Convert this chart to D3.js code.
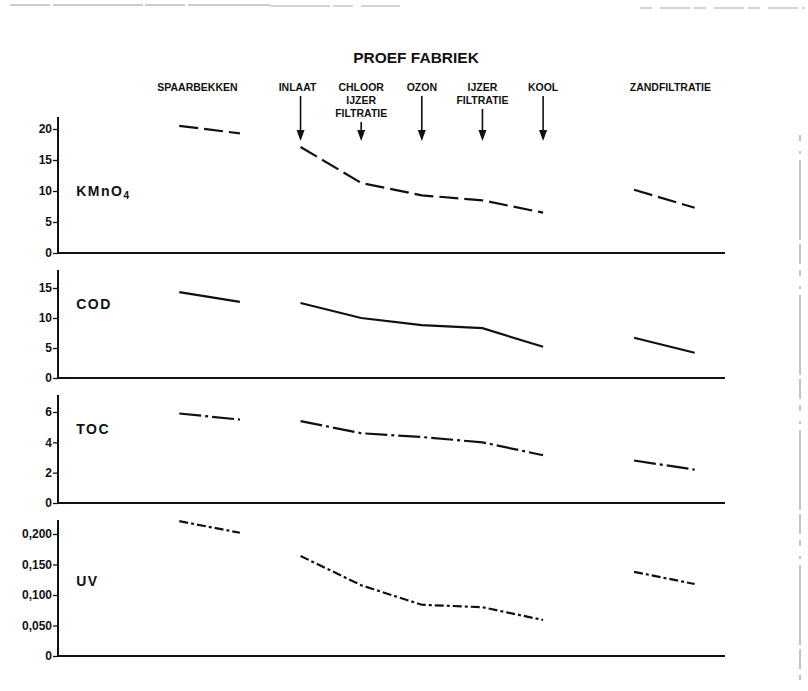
<!DOCTYPE html>
<html>
<head>
<meta charset="utf-8">
<script src="https://cdn.jsdelivr.net/npm/d3@7"></script>
<style>
  html, body { margin: 0; padding: 0; background: #fff; }
  svg { display: block; }
  text { font-family: "Liberation Sans", Arial, Helvetica, sans-serif; fill: #111; }
</style>
</head>
<body>
<svg id="chart" width="808" height="691"></svg>
<script>
// ---------- data ----------
const title = "PROEF FABRIEK";
// process positions (step index along the treatment train)
const positions = [2, 3, 4, 5, 6, 7, 8, 9.5, 10.5];
// segments: indices into positions
const segments = [[0, 1], [2, 3, 4, 5, 6], [7, 8]];

const kmno4 = [20.5, 19.3, 17.1, 11.3, 9.3, 8.5, 6.5, 10.2, 7.3];
const cod   = [14.3, 12.7, 12.5, 10.0, 8.8, 8.3, 5.2, 6.7, 4.2];
const toc   = [5.9, 5.5, 5.4, 4.6, 4.35, 4.0, 3.15, 2.8, 2.2];
const uv    = [0.221, 0.202, 0.164, 0.116, 0.084, 0.080, 0.059, 0.138, 0.118];

const kmno4Ticks = [0, 5, 10, 15, 20];
const codTicks   = [0, 5, 10, 15];
const tocTicks   = [0, 2, 4, 6];
const uvTicks    = [0, 0.05, 0.10, 0.15, 0.20];

// station labels: [position, lines]
const stationLabels = [
  [2.3, ["SPAARBEKKEN"]],
  [3.95, ["INLAAT"]],
  [5, ["CHLOOR", "IJZER", "FILTRATIE"]],
  [6, ["OZON"]],
  [7, ["IJZER", "FILTRATIE"]],
  [8, ["KOOL"]],
  [10.1, ["ZANDFILTRATIE"]]
];
// arrows at positions with start below label lines
const arrowPositions = [4, 5, 6, 7, 8];
const arrowLabelLines = [1, 3, 1, 2, 1];

// ---------- layout ----------
const svg = d3.select("#chart");
const x = d3.scaleLinear().domain([0, 11]).range([58, 725]);

const panels = [
  { name: "KMnO", sub: "4", data: kmno4, ticks: kmno4Ticks, max: 20, y0: 253, yMax: 129, top: 117, dash: "19,6", labelY: 196, fmt: d3.format("d") },
  { name: "COD", sub: "", data: cod, ticks: codTicks, max: 15, y0: 378, yMax: 288, top: 270, dash: null, labelY: 309, fmt: d3.format("d") },
  { name: "TOC", sub: "", data: toc, ticks: tocTicks, max: 6, y0: 503, yMax: 412, top: 395, dash: "22,4,3,4", labelY: 434, fmt: d3.format("d") },
  { name: "UV", sub: "", data: uv, ticks: uvTicks, max: 0.2, y0: 656, yMax: 534, top: 520, dash: "9,3,3,3", labelY: 586,
    fmt: d => d === 0 ? "0" : d3.format(".3f")(d).replace(".", ",") }
];

// faint scan-edge artifacts
svg.append("line").attr("x1", 10).attr("x2", 270).attr("y1", 5).attr("y2", 5).attr("stroke", "#999").attr("stroke-width", 1).attr("stroke-dasharray", "40,3,90,2");
svg.append("line").attr("x1", 270).attr("x2", 400).attr("y1", 6).attr("y2", 6).attr("stroke", "#aaa").attr("stroke-width", 1).attr("stroke-dasharray", "60,3,20,8");
svg.append("line").attr("x1", 640).attr("x2", 805).attr("y1", 8).attr("y2", 8).attr("stroke", "#aaa").attr("stroke-width", 1).attr("stroke-dasharray", "12,8,30,4");
svg.append("line").attr("x1", 800).attr("x2", 800).attr("y1", 135).attr("y2", 680).attr("stroke", "#888").attr("stroke-width", 1).attr("stroke-dasharray", "6,10,3,6,80,4,20,6");

// title
svg.append("text").attr("x", 416).attr("y", 63).attr("text-anchor", "middle")
  .attr("font-size", 15.5).attr("font-weight", "bold").text(title);

// station labels
const labelBase = 91, lineStep = 13;
stationLabels.forEach(([p, lines]) => {
  const t = svg.append("text").attr("text-anchor", "middle").attr("font-size", 10.5).attr("font-weight", "bold");
  lines.forEach((ln, i) => {
    t.append("tspan").attr("x", x(p)).attr("y", labelBase + i * lineStep).text(ln);
  });
});

// arrows
arrowPositions.forEach((p, i) => {
  const xs = x(p);
  const yStart = labelBase + (arrowLabelLines[i] - 1) * lineStep + 5;
  const tip = 141;
  svg.append("line").attr("x1", xs).attr("x2", xs).attr("y1", yStart).attr("y2", tip - 8)
    .attr("stroke", "#111").attr("stroke-width", 1.6);
  svg.append("path").attr("d", `M${xs - 4},${tip - 11} L${xs + 4},${tip - 11} L${xs},${tip} Z`).attr("fill", "#111");
});

// panels
panels.forEach(pn => {
  const y = d3.scaleLinear().domain([0, pn.max]).range([pn.y0, pn.yMax]);
  const g = svg.append("g");

  const axis = d3.axisLeft(y).tickValues(pn.ticks).tickFormat(pn.fmt).tickSize(5).tickSizeOuter(0).tickPadding(1);
  const ag = g.append("g").attr("transform", `translate(${x(0)},0)`).call(axis);
  ag.select(".domain").remove();
  ag.selectAll(".tick line").attr("stroke", "#111").attr("stroke-width", 1.3);
  ag.selectAll(".tick text").attr("font-size", 12).attr("font-weight", "bold")
    .attr("font-family", '"Liberation Sans", Arial, sans-serif').attr("fill", "#111");

  // y axis line
  g.append("line").attr("x1", x(0)).attr("x2", x(0)).attr("y1", pn.top).attr("y2", pn.y0)
    .attr("stroke", "#111").attr("stroke-width", 2);
  // x baseline
  g.append("line").attr("x1", x(0)).attr("x2", x(11)).attr("y1", pn.y0).attr("y2", pn.y0)
    .attr("stroke", "#111").attr("stroke-width", 2);

  // panel label
  const lt = g.append("text").attr("x", x(0.3)).attr("y", pn.labelY)
    .attr("font-size", 14).attr("font-weight", "bold").attr("letter-spacing", 1.5).text(pn.name);
  if (pn.sub) lt.append("tspan").attr("font-size", 10).attr("dy", 3).text(pn.sub);

  // series
  const line = d3.line().x(i => x(positions[i])).y(i => y(pn.data[i]));
  segments.forEach(seg => {
    g.append("path").attr("d", line(seg)).attr("fill", "none")
      .attr("stroke", "#111").attr("stroke-width", 2.2)
      .attr("stroke-dasharray", pn.dash);
  });
});
</script>
</body>
</html>
